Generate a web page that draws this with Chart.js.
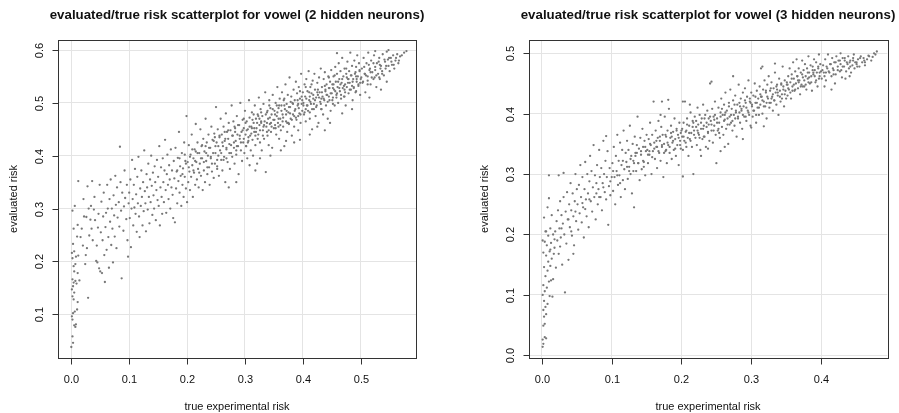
<!DOCTYPE html>
<html>
<head>
<meta charset="utf-8">
<script src="https://cdn.jsdelivr.net/npm/chart.js@4.4.1/dist/chart.umd.min.js"></script>
<style>
  html, body { margin: 0; padding: 0; background: #fff; }
  #wrap { position: relative; width: 899px; height: 413px; }
  canvas { position: absolute; top: 0; }
  #c2 { left: 0; }
  #c3 { left: 450px; }
</style>
</head>
<body>
<div id="wrap">
  <canvas id="c2" width="450" height="413"></canvas>
  <canvas id="c3" width="449" height="413"></canvas>
</div>
<script>
// tick labels of each panel
const xTicks2 = [0.0, 0.1, 0.2, 0.3, 0.4, 0.5];
const yTicks2 = [0.1, 0.2, 0.3, 0.4, 0.5, 0.6];
const xTicks3 = [0.0, 0.1, 0.2, 0.3, 0.4];
const yTicks3 = [0.0, 0.1, 0.2, 0.3, 0.4, 0.5];

const title2 = 'evaluated/true risk scatterplot for vowel (2 hidden neurons)';
const title3 = 'evaluated/true risk scatterplot for vowel (3 hidden neurons)';
const xTitle = 'true experimental risk';
const yTitle = 'evaluated risk';

// 2 hidden neurons: pairs of (true experimental risk, evaluated risk)
const risk2 = [
  .000,.038, .003,.046, .002,.058, .007,.076, .008,.081, .005,.079, .002,.090, .001,.096, .003,.102, .006,.105,
  .010,.109, .011,.123, .004,.128, .002,.134, .005,.141, .001,.147, .003,.153, .004,.160, .007,.163, .002,.166,
  .009,.158, .014,.164, .005,.181, .011,.178, .004,.191, .007,.195, .002,.206, .008,.209, .001,.216, .005,.219,
  .012,.211, .003,.233, .010,.247, .004,.262, .011,.269, .002,.296, .006,.305,
  .016,.246, .018,.262, .020,.230, .022,.285, .024,.195, .025,.212, .026,.284, .027,.225, .029,.131, .030,.300,
  .031,.249, .033,.279, .034,.305, .035,.262, .037,.240, .039,.298, .040,.322, .041,.278, .043,.201, .044,.230,
  .045,.198, .046,.264, .047,.290, .048,.187, .049,.345, .050,.181, .021,.318, .028,.342, .036,.352, .012,.352,
  .051,.255, .052,.313, .053,.178, .054,.240, .055,.285, .056,.330, .057,.212, .058,.161, .059,.265, .060,.292,
  .061,.222, .062,.345, .063,.300, .064,.246, .065,.188, .066,.318, .067,.275, .068,.355, .069,.231, .070,.300,
  .071,.262, .072,.198, .073,.325, .074,.287, .075,.247, .076,.362, .077,.307, .078,.225, .079,.340, .080,.283,
  .082,.312, .083,.266, .085,.350, .086,.296, .087,.168, .088,.330, .090,.258, .091,.304, .092,.372, .093,.320,
  .095,.280, .096,.345, .097,.240, .098,.209, .099,.310, .084,.417,
  .100,.330, .101,.282, .102,.355, .103,.227, .104,.300, .105,.392, .106,.318, .107,.268, .108,.345, .109,.302,
  .110,.375, .111,.290, .112,.327, .113,.256, .114,.360, .115,.310, .116,.398, .117,.285, .118,.246, .119,.338,
  .120,.305, .121,.372, .122,.322, .123,.268, .124,.350, .125,.295, .126,.410, .127,.333, .128,.310, .129,.257,
  .130,.365, .131,.340, .132,.298, .133,.385, .134,.322, .135,.272, .136,.355, .137,.312, .138,.400, .139,.343,
  .140,.288, .141,.368, .142,.325, .143,.300, .144,.380, .145,.350, .146,.278, .147,.335, .148,.392, .149,.316,
  .150,.360, .151,.305, .152,.418, .153,.268, .154,.340, .155,.378, .156,.322, .157,.290, .158,.395, .159,.350,
  .160,.312, .161,.372, .162,.430, .163,.335, .164,.292, .165,.365, .166,.402, .167,.345, .168,.318, .169,.382,
  .170,.355, .171,.300, .172,.412, .173,.340, .174,.372, .175,.326, .176,.282, .177,.390, .178,.357, .179,.274,
  .180,.415, .181,.338, .182,.370, .183,.310, .184,.396, .185,.352, .186,.445, .187,.330, .188,.380, .189,.362,
  .190,.305, .191,.405, .192,.345, .193,.376, .194,.322, .195,.425, .196,.360, .197,.390, .198,.338, .199,.475,
  .200,.312,
  .201,.388, .202,.350, .203,.420, .204,.370, .205,.335, .206,.402, .207,.360, .208,.440, .209,.382, .210,.322,
  .211,.395, .212,.368, .213,.412, .214,.345, .215,.460, .216,.388, .217,.355, .218,.425, .219,.375, .220,.340,
  .221,.405, .222,.385, .223,.450, .224,.362, .225,.418, .226,.395, .227,.335, .228,.432, .229,.372, .230,.408,
  .231,.350, .232,.470, .233,.390, .234,.425, .235,.365, .236,.400, .237,.440, .238,.378, .239,.345, .240,.415,
  .241,.395, .242,.455, .243,.370, .244,.430, .245,.405, .246,.358, .247,.442, .248,.385, .249,.418, .250,.492,
  .251,.425, .252,.380, .253,.450, .254,.400, .255,.362, .256,.435, .257,.410, .258,.470, .259,.392, .260,.440,
  .261,.372, .262,.418, .263,.455, .264,.398, .265,.428, .266,.350, .267,.480, .268,.412, .269,.445, .270,.388,
  .271,.432, .272,.462, .273,.405, .274,.375, .275,.448, .276,.420, .277,.495, .278,.398, .279,.438, .280,.465,
  .281,.415, .282,.385, .283,.452, .284,.428, .285,.402, .286,.475, .287,.440, .288,.418, .289,.365, .290,.458,
  .291,.432, .292,.500, .293,.410, .294,.445, .295,.390, .296,.468, .297,.425, .298,.452, .299,.405, .300,.485,
  .272,.340, .285,.350,
  .301,.440, .302,.418, .303,.465, .304,.395, .305,.450, .306,.428, .307,.505, .308,.472, .309,.438, .310,.410,
  .311,.455, .312,.482, .313,.430, .314,.400, .315,.462, .316,.445, .317,.495, .318,.420, .319,.470, .320,.452,
  .321,.385, .322,.478, .323,.440, .324,.510, .325,.458, .326,.425, .327,.488, .328,.462, .329,.410, .330,.475,
  .331,.448, .332,.498, .333,.432, .334,.465, .335,.520, .336,.369, .337,.455, .338,.482, .339,.438, .340,.470,
  .341,.420, .342,.505, .343,.460, .344,.490, .345,.445, .346,.478, .347,.415, .348,.515, .349,.468, .350,.452,
  .318,.372, .326,.395, .344,.400, .308,.382,
  .351,.485, .352,.458, .353,.500, .354,.440, .355,.475, .356,.530, .357,.462, .358,.490, .359,.432, .360,.508,
  .361,.470, .362,.448, .363,.495, .364,.520, .365,.478, .366,.455, .367,.505, .368,.418, .369,.488, .370,.535,
  .371,.465, .372,.498, .373,.445, .374,.515, .375,.482, .376,.460, .377,.548, .378,.492, .379,.470, .380,.512,
  .381,.438, .382,.500, .383,.478, .384,.525, .385,.455, .386,.505, .387,.488, .388,.540, .389,.468, .390,.518,
  .391,.495, .392,.448, .393,.530, .394,.480, .395,.508, .396,.462, .397,.555, .398,.498, .399,.485, .400,.520,
  .362,.410, .385,.425, .371,.428, .395,.430,
  .401,.500, .402,.478, .403,.535, .404,.512, .405,.465, .406,.545, .407,.495, .408,.522, .409,.485, .410,.560,
  .411,.505, .412,.470, .413,.530, .414,.498, .415,.518, .416,.450, .417,.542, .418,.508, .419,.488, .420,.555,
  .421,.525, .422,.475, .423,.510, .424,.495, .425,.538, .426,.515, .427,.462, .428,.548, .429,.520, .430,.502,
  .431,.565, .432,.488, .433,.530, .434,.512, .435,.478, .436,.545, .437,.505, .438,.558, .439,.522, .440,.495,
  .441,.535, .442,.515, .443,.470, .444,.550, .445,.528, .446,.505, .447,.540, .448,.485, .449,.562, .450,.518,
  .412,.440, .425,.455, .438,.448, .447,.462,
  .451,.535, .452,.510, .453,.550, .454,.525, .455,.495, .456,.568, .457,.540, .458,.515, .459,.555, .460,.530,
  .461,.500, .462,.575, .463,.545, .464,.522, .465,.560, .466,.508, .467,.538, .468,.585, .469,.528, .470,.550,
  .471,.512, .472,.565, .473,.535, .474,.495, .475,.555, .476,.530, .477,.578, .478,.545, .479,.518, .480,.560,
  .481,.538, .482,.595, .483,.525, .484,.552, .485,.570, .486,.505, .487,.545, .488,.530, .489,.580, .490,.555,
  .491,.520, .492,.568, .493,.540, .494,.590, .495,.550, .496,.532, .497,.575, .498,.560, .499,.515, .500,.545,
  .468,.480, .485,.488, .459,.594,
  .502,.565, .504,.540, .505,.585, .507,.555, .508,.520, .510,.575, .512,.550, .513,.595, .515,.562, .517,.535,
  .518,.580, .520,.558, .522,.545, .523,.590, .525,.568, .527,.530, .528,.575, .530,.555, .532,.585, .533,.545,
  .535,.570, .537,.560, .538,.592, .540,.552, .542,.578, .543,.565, .545,.540, .547,.582, .548,.570, .550,.560,
  .515,.510, .535,.525, .525,.598, .545,.597,
  .552,.585, .554,.572, .556,.590, .558,.565, .560,.580, .563,.592, .565,.575, .568,.588, .575,.595, .548,.600,
  // dense core of the band
  .183,.372, .187,.395, .192,.365, .196,.402, .203,.378, .205,.398, .209,.412, .211,.372, .214,.390, .218,.405,
  .221,.368, .224,.395, .226,.420, .229,.388, .233,.405, .235,.378, .238,.415, .241,.398, .243,.385, .246,.428,
  .249,.405, .252,.392, .254,.418, .256,.438, .259,.405, .261,.425, .263,.392, .266,.432, .268,.415, .271,.448,
  .273,.422, .276,.405, .278,.438, .281,.425, .283,.445, .286,.418, .288,.458, .291,.438, .293,.425, .296,.448,
  .298,.432, .301,.462, .303,.448, .306,.435, .308,.455, .311,.442, .313,.468, .316,.452, .318,.438, .321,.462,
  .323,.475, .326,.448, .328,.465, .331,.438, .333,.458, .336,.478, .338,.462, .341,.448, .343,.472, .346,.455,
  .348,.488, .351,.468, .353,.452, .356,.482, .358,.470, .361,.458, .363,.485, .366,.472, .368,.495, .371,.478,
  .373,.462, .376,.492, .378,.480, .381,.468, .383,.498, .386,.485, .388,.472, .391,.505, .393,.490, .396,.478,
  .398,.512, .401,.495, .403,.482, .406,.508, .408,.495, .411,.520, .413,.502, .416,.488, .418,.515, .421,.505,
  .423,.492, .426,.525, .428,.510, .431,.498, .433,.520, .436,.508, .438,.532, .441,.515, .443,.502, .446,.528,
  .448,.518, .451,.505, .453,.535, .456,.522, .458,.510, .461,.540, .463,.528, .466,.515, .468,.545, .471,.532,
  .473,.520, .476,.548, .478,.538, .481,.525, .483,.552, .486,.540, .488,.528, .491,.558, .493,.545, .496,.535,
  .498,.562, .501,.548, .503,.538, .506,.568, .509,.552, .512,.542, .514,.572, .517,.558, .519,.548, .522,.575,
  .525,.562, .527,.552, .531,.578, .534,.565, .537,.555, .541,.582, .544,.570, .549,.585, .553,.578, .557,.572,
  .561,.585, .566,.580, .571,.590, .579,.598,
  .305,.425, .312,.452, .319,.445, .325,.470, .332,.455, .339,.485, .345,.462, .352,.478, .359,.495, .365,.465,
  .372,.485, .379,.502, .385,.475, .392,.498, .399,.505, .405,.488, .412,.512, .419,.498, .425,.520, .432,.508,
  .439,.525, .445,.512, .452,.528, .459,.518, .465,.535, .472,.525, .479,.545, .485,.532, .492,.550, .499,.538,
  .507,.555, .516,.565, .524,.548, .533,.572, .395,.522, .405,.530, .415,.535, .445,.548, .455,.552, .475,.565,
  .368,.508, .355,.495, .342,.495, .328,.482, .315,.478, .298,.470, .282,.455, .265,.445, .248,.435, .232,.418,
  .215,.408, .198,.385, .252,.375, .268,.395, .285,.410, .302,.418, .322,.432, .338,.445, .358,.455, .375,.462,
  .392,.475, .412,.482, .432,.488, .452,.498, .472,.512, .492,.522, .512,.535, .532,.548
];

// 3 hidden neurons: pairs of (true experimental risk, evaluated risk)
const risk3 = [
  .001,.014, .002,.019, .001,.026, .004,.030, .006,.028, .002,.049, .004,.052, .003,.064, .006,.068, .002,.075,
  .005,.080, .008,.085, .003,.090, .001,.100, .011,.098, .015,.097, .004,.106, .007,.112, .002,.116, .010,.122,
  .013,.124, .016,.126, .005,.131, .008,.140, .003,.146, .012,.148, .009,.155, .014,.160, .006,.165, .002,.170,
  .011,.172, .017,.168, .007,.182, .004,.188, .013,.186, .001,.190, .009,.198, .016,.200, .005,.205, .012,.210,
  .003,.228, .008,.245, .014,.232, .010,.260, .006,.205, .010,.298,
  .018,.178, .019,.205, .020,.145, .021,.222, .022,.190, .023,.240, .024,.168, .025,.210, .026,.255, .027,.195,
  .028,.232, .029,.150, .030,.218, .031,.262, .032,.200, .033,.104, .034,.238, .035,.185, .036,.270, .037,.225,
  .038,.158, .039,.250, .040,.212, .041,.285, .042,.240, .043,.198, .044,.268, .045,.230, .046,.182, .047,.255,
  .048,.300, .049,.222, .050,.275, .024,.298, .031,.302, .045,.168,
  .051,.250, .052,.208, .053,.282, .054,.235, .055,.315, .056,.262, .057,.220, .058,.295, .059,.245, .060,.195,
  .061,.275, .062,.320, .063,.258, .064,.230, .065,.300, .066,.268, .067,.212, .068,.288, .069,.330, .070,.255,
  .071,.305, .072,.238, .073,.278, .074,.348, .075,.262, .076,.298, .077,.225, .078,.285, .079,.315, .080,.250,
  .081,.275, .082,.340, .083,.295, .084,.262, .085,.310, .086,.240, .087,.285, .088,.355, .089,.300, .090,.270,
  .091,.322, .092,.258, .093,.295, .094,.338, .095,.216, .096,.280, .097,.310, .098,.265, .092,.363, .100,.295,
  .101,.318, .102,.272, .103,.345, .104,.295, .105,.250, .106,.330, .107,.305, .108,.365, .109,.282, .110,.322,
  .111,.298, .112,.352, .113,.262, .114,.315, .115,.340, .116,.290, .117,.372, .118,.308, .119,.275, .120,.335,
  .121,.320, .122,.355, .123,.292, .124,.340, .125,.312, .126,.380, .127,.300, .128,.330, .129,.268, .130,.350,
  .131,.322, .132,.245, .133,.362, .134,.335, .135,.305, .136,.348, .137,.395, .138,.318, .139,.342, .140,.290,
  .141,.360, .142,.332, .143,.308, .144,.375, .145,.345, .146,.320, .147,.355, .148,.298, .149,.338, .150,.365,
  .151,.340, .152,.318, .153,.358, .154,.332, .155,.385, .156,.348, .157,.300, .158,.365, .159,.338, .160,.420,
  .161,.352, .162,.325, .163,.372, .164,.345, .165,.310, .166,.360, .167,.388, .168,.335, .169,.355, .170,.322,
  .171,.378, .172,.345, .173,.365, .174,.295, .175,.350, .176,.395, .177,.338, .178,.362, .179,.318, .180,.372,
  .181,.348, .182,.408, .183,.335, .184,.360, .185,.380, .186,.325, .187,.352, .188,.370, .189,.340, .190,.392,
  .191,.358, .192,.330, .193,.375, .194,.348, .195,.365, .196,.315, .197,.385, .198,.355, .199,.342, .200,.372,
  .172,.420, .181,.423, .170,.398, .202,.420,
  .201,.362, .202,.340, .203,.385, .204,.355, .205,.420, .206,.370, .207,.345, .208,.392, .209,.360, .210,.330,
  .211,.380, .212,.358, .213,.402, .214,.368, .215,.345, .216,.388, .217,.300, .218,.372, .219,.395, .220,.360,
  .221,.378, .222,.348, .223,.410, .224,.382, .225,.365, .226,.398, .227,.340, .228,.375, .229,.392, .230,.358,
  .231,.415, .232,.380, .233,.362, .234,.398, .235,.345, .236,.385, .237,.405, .238,.370, .239,.392, .240,.355,
  .241,.450, .242,.388, .243,.372, .244,.408, .245,.352, .246,.395, .247,.380, .248,.420, .249,.365, .250,.318,
  .243,.453, .212,.415, .228,.330, .238,.342, .202,.296,
  .251,.392, .252,.372, .253,.410, .254,.385, .255,.360, .256,.402, .257,.425, .258,.378, .259,.398, .260,.365,
  .261,.415, .262,.390, .263,.435, .264,.375, .265,.405, .266,.382, .267,.350, .268,.418, .269,.395, .270,.440,
  .271,.385, .272,.408, .273,.372, .274,.422, .275,.398, .276,.380, .277,.430, .278,.405, .279,.362, .280,.415,
  .281,.392, .282,.448, .283,.402, .284,.385, .285,.425, .286,.408, .287,.375, .288,.435, .289,.412, .290,.395,
  .291,.442, .292,.418, .293,.388, .294,.428, .295,.405, .296,.455, .297,.398, .298,.420, .299,.380, .300,.435,
  .262,.345, .288,.358, .274,.462, .256,.338,
  .301,.412, .302,.395, .303,.430, .304,.405, .305,.450, .306,.418, .307,.385, .308,.438, .309,.410, .310,.425,
  .311,.398, .312,.445, .313,.415, .314,.475, .315,.428, .316,.400, .317,.440, .318,.420, .319,.455, .320,.412,
  .321,.435, .322,.392, .323,.448, .324,.425, .325,.462, .326,.410, .327,.438, .328,.418, .329,.452, .330,.428,
  .331,.405, .332,.442, .333,.422, .334,.468, .335,.435, .336,.415, .337,.448, .338,.430, .339,.398, .340,.458,
  .341,.438, .342,.420, .343,.450, .344,.432, .345,.478, .346,.445, .347,.412, .348,.455, .349,.438, .350,.425,
  .300,.377, .318,.379, .316,.478, .334,.483,
  .351,.448, .352,.430, .353,.462, .354,.440, .355,.475, .356,.452, .357,.425, .358,.465, .359,.445, .360,.485,
  .361,.458, .362,.438, .363,.470, .364,.450, .365,.490, .366,.462, .367,.442, .368,.475, .369,.455, .370,.432,
  .371,.468, .372,.448, .373,.488, .374,.460, .375,.472, .376,.445, .377,.482, .378,.462, .379,.440, .380,.475,
  .381,.458, .382,.495, .383,.468, .384,.450, .385,.480, .386,.462, .387,.438, .388,.478, .389,.465, .390,.490,
  .391,.472, .392,.452, .393,.485, .394,.468, .395,.445, .396,.478, .397,.498, .398,.462, .399,.482, .400,.470,
  .401,.458, .403,.480, .404,.468, .406,.490, .407,.455, .409,.475, .410,.498, .412,.468, .413,.482, .415,.462,
  .416,.492, .418,.472, .419,.485, .421,.465, .422,.495, .424,.478, .425,.488, .427,.470, .428,.482, .430,.460,
  .431,.492, .433,.478, .434,.488, .436,.470, .437,.485, .439,.495, .440,.475, .442,.488, .443,.468, .445,.480,
  .446,.492, .448,.475, .449,.485, .405,.445, .420,.450, .435,.458, .428,.500, .441,.462, .447,.498, .415,.440,
  .451,.482, .453,.490, .455,.478, .457,.495, .459,.485, .461,.492, .463,.480, .466,.490, .469,.495, .472,.488,
  .476,.500, .480,.503,
  // dense core of the band
  .122,.312, .127,.325, .131,.305, .134,.330, .138,.318, .142,.338, .145,.322, .148,.345, .152,.332, .155,.350,
  .158,.328, .161,.342, .164,.355, .167,.338, .169,.362, .172,.348, .175,.335, .177,.365, .180,.352, .183,.345,
  .185,.368, .188,.355, .191,.342, .193,.372, .196,.360, .198,.348, .201,.375, .203,.362, .206,.352, .208,.382,
  .211,.368, .213,.355, .216,.378, .218,.365, .221,.388, .223,.372, .226,.360, .228,.385, .231,.375, .233,.392,
  .236,.378, .238,.368, .241,.395, .243,.382, .246,.372, .248,.398, .251,.385, .253,.375, .256,.395, .258,.408,
  .261,.388, .263,.402, .266,.392, .268,.412, .271,.398, .273,.388, .276,.415, .278,.402, .281,.395, .283,.418,
  .286,.405, .288,.398, .291,.422, .293,.410, .296,.402, .298,.425, .301,.415, .303,.405, .306,.428, .308,.418,
  .311,.410, .313,.432, .316,.422, .318,.412, .321,.438, .323,.428, .326,.418, .328,.442, .331,.432, .333,.422,
  .336,.445, .338,.435, .341,.428, .343,.448, .346,.440, .348,.432, .351,.452, .353,.442, .356,.435, .358,.458,
  .361,.448, .363,.440, .366,.462, .368,.452, .371,.445, .373,.465, .376,.455, .378,.448, .381,.468, .383,.460,
  .386,.452, .388,.472, .391,.462, .393,.455, .396,.475, .398,.468, .402,.472, .405,.462, .408,.478, .411,.470,
  .414,.482, .417,.475, .421,.485, .424,.472, .427,.488, .431,.478, .434,.492, .438,.482, .442,.478, .446,.488,
  .451,.485, .456,.492, .462,.488, .468,.496, .474,.494, .478,.498,
  .165,.345, .178,.340, .186,.362, .199,.368, .207,.372, .217,.385, .224,.368, .232,.362, .239,.382, .247,.390,
  .254,.368, .262,.398, .269,.382, .277,.392, .284,.412, .292,.395, .299,.418, .307,.398, .314,.428, .322,.418,
  .329,.425, .337,.440, .344,.425, .352,.448, .359,.438, .367,.455, .374,.445, .382,.452, .389,.468, .397,.458,
  .407,.468, .418,.465, .429,.472, .441,.485, .452,.478, .463,.485, .154,.338, .146,.312, .136,.335, .125,.305,
  .116,.322, .108,.298, .098,.288, .088,.278, .078,.268, .068,.258, .058,.252, .048,.238, .038,.225, .028,.210,
  .018,.192, .012,.175, .026,.180, .042,.205, .062,.242, .082,.262, .102,.305, .112,.285, .132,.318
];

function toPoints(flat) {
  const pts = [];
  for (let i = 0; i + 1 < flat.length; i += 2) pts.push({ x: flat[i], y: flat[i + 1] });
  return pts;
}

// R-like frame, ticks, labels and titles around the plot region
const rFrame = {
  id: 'rFrame',
  afterDraw(chart, args, o) {
    const { ctx, chartArea: a, scales: { x, y } } = chart;
    ctx.save();
    ctx.strokeStyle = '#333';
    ctx.lineWidth = 1;
    ctx.strokeRect(Math.round(a.left) + 0.5, Math.round(a.top) + 0.5,
      Math.round(a.right - a.left), Math.round(a.bottom - a.top));

    ctx.fillStyle = '#111';
    ctx.font = '11px "Liberation Sans", Arial, sans-serif';
    ctx.textAlign = 'center';
    ctx.textBaseline = 'middle';
    const bottom = Math.round(a.bottom) + 0.5;
    const left = Math.round(a.left) + 0.5;

    o.xTicks.forEach(v => {
      const px = Math.round(x.getPixelForValue(v)) + 0.5;
      ctx.beginPath(); ctx.moveTo(px, bottom); ctx.lineTo(px, bottom + 6); ctx.stroke();
      ctx.fillText(v.toFixed(1), px, a.bottom + 22);
    });
    o.yTicks.forEach(v => {
      const py = Math.round(y.getPixelForValue(v)) + 0.5;
      ctx.beginPath(); ctx.moveTo(left - 6, py); ctx.lineTo(left, py); ctx.stroke();
      ctx.save();
      ctx.translate(a.left - 18, py);
      ctx.rotate(-Math.PI / 2);
      ctx.fillText(v.toFixed(1), 0, 0);
      ctx.restore();
    });

    ctx.fillText(o.xTitle, (a.left + a.right) / 2, a.bottom + 49);
    ctx.save();
    ctx.translate(a.left - 44, (a.top + a.bottom) / 2);
    ctx.rotate(-Math.PI / 2);
    ctx.fillText(o.yTitle, 0, 0);
    ctx.restore();

    ctx.font = 'bold 13.3px "Liberation Sans", Arial, sans-serif';
    ctx.fillText(o.title, (a.left + a.right) / 2, 15);
    ctx.restore();
  }
};

function makeChart(id, flat, xr, yr, xt, yt, title, pad) {
  return new Chart(document.getElementById(id), {
    type: 'scatter',
    data: {
      datasets: [{
        data: toPoints(flat),
        pointRadius: 1.15,
        pointHoverRadius: 1.15,
        pointBorderWidth: 0,
        backgroundColor: '#777',
        borderColor: '#777'
      }]
    },
    options: {
      responsive: false,
      animation: false,
      devicePixelRatio: 1,
      layout: { padding: pad },
      plugins: {
        legend: { display: false },
        tooltip: { enabled: false },
        rFrame: { xTicks: xt, yTicks: yt, title: title, xTitle: xTitle, yTitle: yTitle }
      },
      scales: {
        x: {
          type: 'linear', min: xr[0], max: xr[1],
          afterBuildTicks: s => { s.ticks = xt.map(v => ({ value: v })); },
          afterFit: s => { s.height = 0; },
          ticks: { display: false },
          grid: { color: '#e4e4e4', lineWidth: 1, drawTicks: false },
          border: { display: false }
        },
        y: {
          type: 'linear', min: yr[0], max: yr[1],
          afterBuildTicks: s => { s.ticks = yt.map(v => ({ value: v })); },
          afterFit: s => { s.width = 0; },
          ticks: { display: false },
          grid: { color: '#e4e4e4', lineWidth: 1, drawTicks: false },
          border: { display: false }
        }
      }
    },
    plugins: [rFrame]
  });
}

makeChart('c2', risk2, [-0.023, 0.5955], [0.0172, 0.619], xTicks2, yTicks2, title2,
  { left: 58, right: 34, top: 40, bottom: 55 });
makeChart('c3', risk3, [-0.019, 0.495], [-0.0045, 0.522], xTicks3, yTicks3, title3,
  { left: 78.7, right: 11.7, top: 40, bottom: 55 });
</script>
</body>
</html>
